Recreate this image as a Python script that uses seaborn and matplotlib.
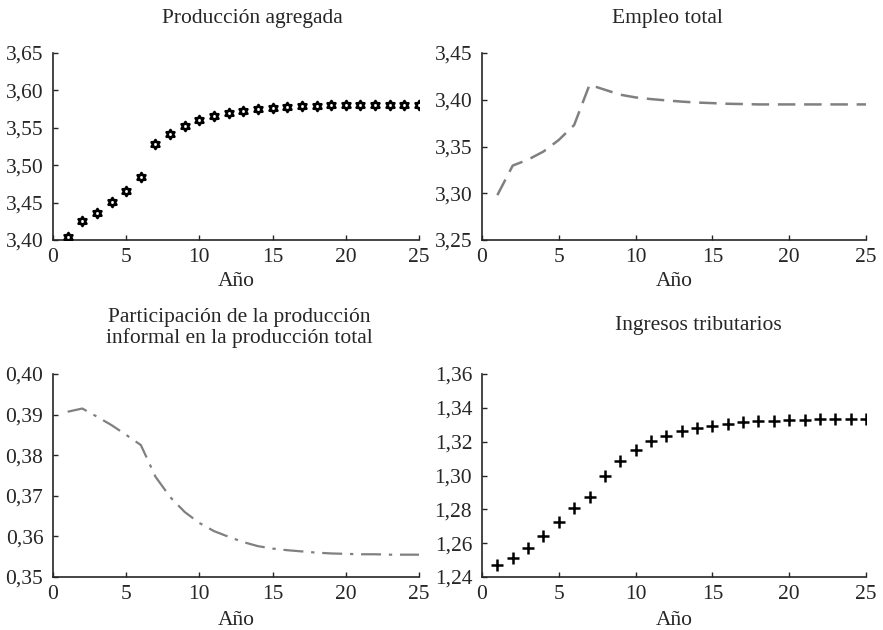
import numpy as np
import matplotlib
matplotlib.use('Agg')
import matplotlib.pyplot as plt
import matplotlib.ticker as ticker
from matplotlib.path import Path
import seaborn as sns

# Years
anios = list(range(1, 26))

# Producción agregada (stars)
produccion = [3.4036, 3.4250, 3.4357, 3.4504, 3.4660, 3.4848, 3.5280, 3.5415, 3.5522,
              3.5598, 3.5656, 3.5696, 3.5728, 3.5754, 3.5768, 3.5780, 3.5790, 3.5795,
              3.5800, 3.5804, 3.5804, 3.5804, 3.5808, 3.5808, 3.5808]

# Empleo total (dashed)
empleo = [3.2980, 3.3296, 3.3360, 3.3446, 3.3570, 3.3730, 3.4160, 3.4107, 3.4054,
          3.4025, 3.4007, 3.3993, 3.3980, 3.3970, 3.3964, 3.3957, 3.3954, 3.3950,
          3.3950, 3.3950, 3.3950, 3.3950, 3.3950, 3.3950, 3.3950]

# Participación de la producción informal (dash-dot)
participacion = [0.3907, 0.3915, 0.3895, 0.3874, 0.3850, 0.3825, 0.3747, 0.3697, 0.3660,
                 0.3633, 0.3613, 0.3599, 0.3586, 0.3576, 0.3570, 0.3566, 0.3563, 0.3560,
                 0.3558, 0.3557, 0.3556, 0.3556, 0.3555, 0.3555, 0.3555]

# Ingresos tributarios (plus)
ingresos = [1.2473, 1.2512, 1.2574, 1.2643, 1.2726, 1.2810, 1.2874, 1.2996, 1.3085,
            1.3148, 1.3203, 1.3235, 1.3264, 1.3282, 1.3294, 1.3306, 1.3316, 1.3324,
            1.3324, 1.3328, 1.3330, 1.3333, 1.3333, 1.3333, 1.3334]

sns.set_style('ticks')
plt.rcParams['font.family'] = ['Liberation Serif', 'DejaVu Serif']

fs = 15.5
comma = ticker.FuncFormatter(lambda v, pos: ('%.2f' % v).replace('.', ','))

# hexagram marker
ang = np.deg2rad(np.arange(12) * 30 + 90)
rad = np.where(np.arange(12) % 2 == 0, 1.0, 1 / np.sqrt(3))
verts = np.column_stack([rad * np.cos(ang), rad * np.sin(ang)])
verts = np.vstack([verts, verts[:1]])
hexagram = Path(verts, [Path.MOVETO] + [Path.LINETO] * 11 + [Path.CLOSEPOLY])

fig = plt.figure(figsize=(8.83, 6.3), dpi=100)
W, H = 883, 630


def make_ax(l, r, t, b):
    return fig.add_axes([l / W, 1 - b / H, (r - l) / W, (b - t) / H])


def style(ax, ylim, ystep, title, title_x, title_y, labelpad):
    sns.despine(ax=ax)
    ax.set_xlim(0, 25)
    ax.set_ylim(*ylim)
    ax.set_xticks(range(0, 26, 5))
    ax.set_yticks(np.arange(ylim[0], ylim[1] + ystep / 2, ystep))
    ax.yaxis.set_major_formatter(comma)
    ax.tick_params(direction='in', length=3.5, width=1, labelsize=fs)
    ax.tick_params(axis='y', pad=7)
    ax.tick_params(axis='x', pad=6)
    for s in ('left', 'bottom'):
        ax.spines[s].set_linewidth(1.2)
    ax.set_xlabel('Año', fontsize=fs, labelpad=labelpad)
    ax.set_ylabel('')
    fig.text(title_x / W, 1 - title_y / H, title, ha='center', va='center',
             fontsize=fs, linespacing=1.1)


# Producción agregada
ax1 = make_ax(53, 419, 53, 240)
sns.scatterplot(x=anios, y=produccion, ax=ax1, marker=hexagram, s=42,
                facecolor='white', edgecolor='black', linewidth=1.9, zorder=3)
style(ax1, (3.40, 3.65), 0.05, 'Producción agregada', 252, 18, 3)

# Empleo total
ax2 = make_ax(482, 866, 53, 240)
sns.lineplot(x=anios, y=empleo, ax=ax2, color='#808080', linewidth=1.8,
             linestyle=(0, (7, 3.5)))
style(ax2, (3.25, 3.45), 0.05, 'Empleo total', 667, 18, 3)

# Participación
ax3 = make_ax(53, 419, 374, 577)
sns.lineplot(x=anios, y=participacion, ax=ax3, color='#808080', linewidth=1.6,
             linestyle=(0, (9, 3.5, 1.5, 3.5)))
style(ax3, (0.35, 0.40), 0.01,
      'Participación de la producción\ninformal en la producción total', 239, 328, 4.5)

# Ingresos tributarios
ax4 = make_ax(482, 866, 374, 577)
sns.scatterplot(x=anios, y=ingresos, ax=ax4, marker='+', s=65, color='black',
                linewidth=1.8)
style(ax4, (1.24, 1.36), 0.02, 'Ingresos tributarios', 698, 325, 4.5)

fig.savefig('out.png', dpi=100)
